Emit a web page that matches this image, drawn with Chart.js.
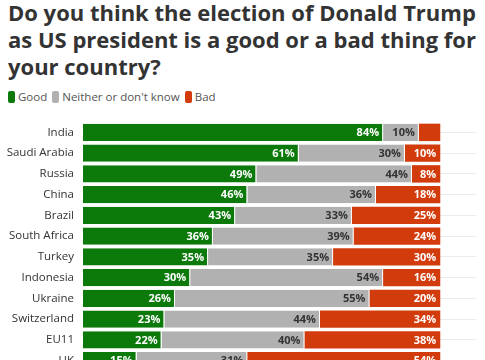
<!DOCTYPE html>
<html><head><meta charset="utf-8">
<script src="https://cdn.jsdelivr.net/npm/chart.js@4/dist/chart.umd.min.js"></script>
<style>
html,body{margin:0;padding:0;background:#fff;overflow:hidden;width:485px;height:360px;}
#title{position:absolute;left:8px;top:-1px;width:475px;font-family:"Open Sans",sans-serif;font-weight:700;font-size:22px;line-height:27px;color:#333;}
#legend{position:absolute;left:8px;top:89px;font-family:"Open Sans",sans-serif;font-size:11.5px;color:#555;display:flex;align-items:center;white-space:nowrap;}
#legend span.item{display:flex;align-items:center;margin-right:5px;}
#legend span.sw{display:inline-block;width:7px;height:12px;border-radius:2px;margin-right:3px;}
#c{position:absolute;left:0;top:122px;}
</style></head>
<body>
<div id="title">Do you think the election of Donald Trump as US president is a good or a bad thing for your country?</div>
<div id="legend"></div>
<canvas id="c" width="485" height="249"></canvas>
<script>
const categories = ["India","Saudi Arabia","Russia","China","Brazil","South Africa","Turkey","Indonesia","Ukraine","Switzerland","EU11","UK"];
const seriesNames = ["Good","Neither or don't know","Bad"];
const good    = [84,61,49,46,43,36,35,30,26,23,22,15];
const neither = [10,30,44,36,33,39,35,54,55,44,40,31];
const bad     = [6,10,8,18,25,24,30,16,20,34,38,54];
const colors = ["#0b7a0b","#b1b1b1","#d23c0c"];
const labelColors = ["#fff","#333","#fff"];

const lg = document.getElementById('legend');
seriesNames.forEach((n,i)=>{
  const s=document.createElement('span');s.className='item';
  s.innerHTML='<span class="sw" style="background:'+colors[i]+'"></span>'+n;
  lg.appendChild(s);
});

const seriesData=[good,neither,bad];
// 100% stacked: each row is shown as its share of the row total (rounded labels may add to 99-101)
const rowTotals = categories.map((_,i)=>good[i]+neither[i]+bad[i]);
const shares = seriesData.map(arr=>arr.map((v,i)=>v/rowTotals[i]*100));

const labelPlugin = {
  id:'segLabels',
  afterDatasetsDraw(chart){
    const ctx=chart.ctx;
    ctx.save();
    ctx.font='700 11px "Open Sans", sans-serif';
    ctx.textAlign='right';ctx.textBaseline='middle';
    chart.data.datasets.forEach((ds,di)=>{
      const meta=chart.getDatasetMeta(di);
      meta.data.forEach((bar,i)=>{
        const v=seriesData[di][i];
        if(v<7) return;
        ctx.fillStyle=labelColors[di];
        ctx.fillText(v+'%',bar.x-4,bar.y+0.5);
      });
    });
    ctx.restore();
  }
};

new Chart(document.getElementById('c'),{
  type:'bar',
  data:{labels:categories,datasets:seriesNames.map((n,i)=>({
    label:n,data:shares[i],backgroundColor:colors[i],
    borderColor:'#fff',borderWidth:i<2?{right:1,left:0,top:0,bottom:0}:0,borderSkipped:false,
    categoryPercentage:1,barPercentage:0.84
  }))},
  options:{
    indexAxis:'y',responsive:false,maintainAspectRatio:false,animation:false,devicePixelRatio:1,
    layout:{padding:{left:0,right:9,top:0,bottom:0}},
    plugins:{legend:{display:false},tooltip:{enabled:false},title:{display:false}},
    scales:{
      x:{stacked:true,min:0,max:110,display:false},
      y:{stacked:true,
        afterFit(s){s.width=83;s.paddingTop=0;s.paddingBottom=0;},
        grid:{display:true,offset:false,color:'#ececec',drawTicks:false},
        border:{display:false},
        ticks:{color:'#333',padding:9,font:{family:'"Open Sans", sans-serif',size:11.5}}
      }
    }
  },
  plugins:[labelPlugin]
});
</script>
</body></html>
